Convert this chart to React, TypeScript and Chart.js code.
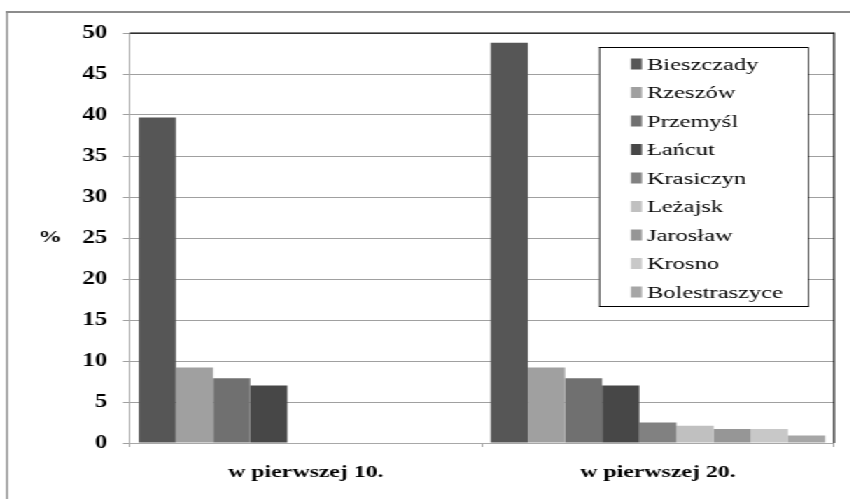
import React, { useEffect, useRef } from 'react';
import { Chart, registerables } from 'chart.js';

Chart.register(...registerables);

const categories = ['w pierwszej 10.', 'w pierwszej 20.'];
const seriesNames = ['Bieszczady', 'Rzeszów', 'Przemyśl', 'Łańcut', 'Krasiczyn', 'Leżajsk', 'Jarosław', 'Krosno', 'Bolestraszyce'];
const bieszczady = [39.7, 48.8];
const rzeszow = [9.2, 9.2];
const przemysl = [7.9, 7.9];
const lancut = [7.0, 7.0];
const krasiczyn = [0, 2.5];
const lezajsk = [0, 2.1];
const jaroslaw = [0, 1.7];
const krosno = [0, 1.7];
const bolestraszyce = [0, 0.9];
const seriesValues = [bieszczady, rzeszow, przemysl, lancut, krasiczyn, lezajsk, jaroslaw, krosno, bolestraszyce];
const seriesColors = ['#565656', '#a0a0a0', '#707070', '#474747', '#818181', '#c0c0c0', '#969696', '#c8c8c8', '#a6a6a6'];
const yMin = 0;
const yMax = 50;
const yStep = 5;
const yAxisTitle = '%';

const S = 1.4; // horizontal stretch of the original picture
const W = 850 / S;
const H = 499;
const FONT = "'Liberation Serif', 'Times New Roman', serif";

const decor = {
  id: 'decor',
  beforeDraw(chart: any) {
    const ctx = chart.ctx;
    ctx.save();
    ctx.fillStyle = '#ffffff';
    ctx.fillRect(0, 0, chart.width, chart.height);
    ctx.fillStyle = '#8c8c8c';
    ctx.fillRect(6 / S, 11, 2 / S, chart.height);
    ctx.fillRect(6 / S, 11, chart.width, 2);
    ctx.restore();
  },
  afterDraw(chart: any) {
    const ctx = chart.ctx;
    const a = chart.chartArea;
    ctx.save();
    // plot area top/right border
    ctx.fillStyle = '#000000';
    ctx.fillRect(a.left, a.top - 0.5, a.right - a.left, 1.2);
    ctx.fillRect(a.right - 0.6 / S, a.top - 0.5, 1.6 / S, a.bottom - a.top + 0.5);
    // y title
    ctx.font = `bold 17px ${FONT}`;
    ctx.textAlign = 'center';
    ctx.textBaseline = 'middle';
    ctx.fillStyle = '#000';
    const y25 = chart.scales.y.getPixelForValue(25);
    ctx.fillText(yAxisTitle, 50 / S, y25);
    // legend
    const lx = 599 / S;
    const ly = 47;
    const lw = 209 / S;
    const lh = 259;
    ctx.fillStyle = '#ffffff';
    ctx.fillRect(lx, ly, lw, lh);
    ctx.fillStyle = '#000000';
    ctx.fillRect(lx, ly, lw, 1);
    ctx.fillRect(lx, ly + lh, lw + 1 / S, 1);
    ctx.fillRect(lx, ly, 1 / S, lh);
    ctx.fillRect(lx + lw, ly, 1 / S, lh + 1);
    ctx.font = `17.5px ${FONT}`;
    ctx.textAlign = 'left';
    chart.data.datasets.forEach((ds: any, i: number) => {
      const cy = 64 + i * 28.5;
      ctx.fillStyle = ds.backgroundColor;
      ctx.fillRect(631 / S, cy - 5.5, 11 / S, 11);
      ctx.fillStyle = '#000';
      ctx.fillText(ds.label, 647 / S, cy + 1);
    });
    ctx.restore();
  },
};

export default function App() {
  const ref = useRef<HTMLCanvasElement | null>(null);
  useEffect(() => {
    if (!ref.current) return;
    const chart = new Chart(ref.current, {
      type: 'bar',
      data: {
        labels: categories,
        datasets: seriesNames.map((name, i) => ({
          label: name,
          data: seriesValues[i],
          backgroundColor: seriesColors[i],
          borderWidth: 0,
          categoryPercentage: 0.95,
          barPercentage: 1.0,
        })),
      },
      options: {
        animation: false,
        responsive: true,
        maintainAspectRatio: false,
        devicePixelRatio: 1,
        layout: { padding: { top: 33, right: 16 / S, left: 0, bottom: 0 } },
        plugins: {
          legend: { display: false },
          tooltip: { enabled: false },
        },
        scales: {
          x: {
            grid: {
              display: true,
              drawOnChartArea: false,
              drawTicks: true,
              tickLength: 4,
              color: '#a0a0a0',
              lineWidth: 1,
            },
            border: { display: true, color: '#a8a8a8', width: 1 },
            ticks: {
              color: '#000',
              font: { family: FONT, size: 17, weight: 'bold' },
              padding: 15,
              maxRotation: 0,
            },
            afterFit(scale: any) {
              scale.height = 56;
            },
          },
          y: {
            min: yMin,
            max: yMax,
            ticks: {
              stepSize: yStep,
              color: '#000',
              font: { family: FONT, size: 18, weight: 'bold' },
              padding: 11,
            },
            grid: {
              color: '#a0a0a0',
              lineWidth: 1,
              tickLength: 5,
            },
            border: { display: true, color: '#a8a8a8', width: 1 },
            afterFit(scale: any) {
              scale.width = 130 / S;
            },
          },
        },
      },
      plugins: [decor],
    });
    return () => chart.destroy();
  }, []);
  return (
    <div
      style={{
        position: 'fixed',
        left: 0,
        top: 0,
        width: W,
        height: H,
        transform: `scaleX(${S})`,
        transformOrigin: '0 0',
        background: '#fff',
      }}
    >
      <canvas ref={ref} />
    </div>
  );
}
